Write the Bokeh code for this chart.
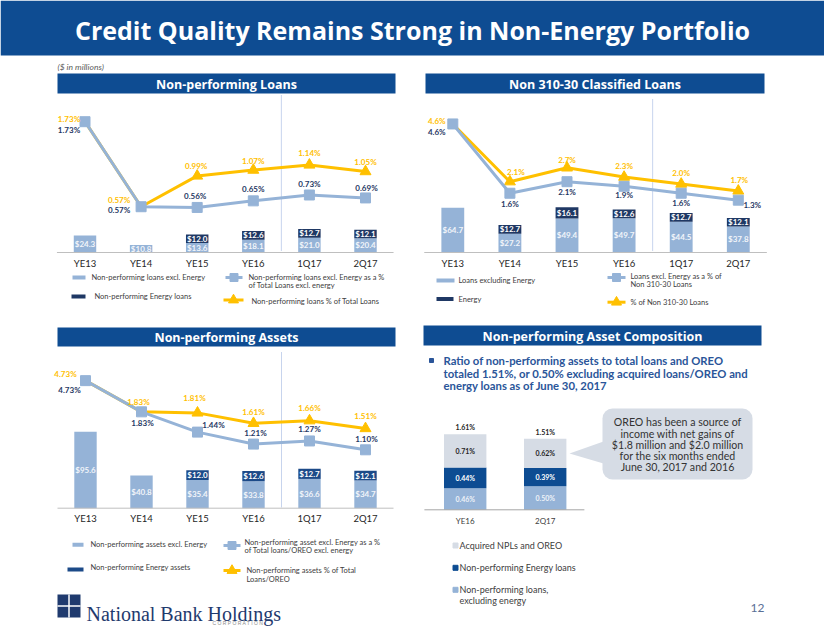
import numpy as np
from bokeh.plotting import figure
from bokeh.models import Range1d, ColumnDataSource, BoxAnnotation
from bokeh.core.properties import value
from bokeh.embed import file_html
from bokeh.resources import INLINE

# ---------------- data ----------------
periods = ["YE13", "YE14", "YE15", "YE16", "1Q17", "2Q17"]

npl_excl_energy = [24.3, 10.8, 13.6, 18.1, 21.0, 20.4]
npl_energy = [0.0, 0.0, 12.0, 12.6, 12.7, 12.1]
npl_excl_pct = [1.73, 0.57, 0.56, 0.65, 0.73, 0.69]
npl_total_pct = [1.73, 0.57, 0.99, 1.07, 1.14, 1.05]

cls_excl_energy = [64.7, 27.2, 49.4, 49.7, 44.5, 37.8]
cls_energy = [0.0, 12.7, 16.1, 12.6, 12.7, 12.1]
cls_excl_pct = [4.6, 1.6, 2.1, 1.9, 1.6, 1.3]
cls_total_pct = [4.6, 2.1, 2.7, 2.3, 2.0, 1.7]

npa_excl_energy = [95.6, 40.8, 35.4, 33.8, 36.6, 34.7]
npa_energy = [0.0, 0.0, 12.0, 12.6, 12.7, 12.1]
npa_excl_pct = [4.73, 1.83, 1.44, 1.21, 1.27, 1.10]
npa_total_pct = [4.73, 1.83, 1.81, 1.61, 1.66, 1.51]

comp_periods = ["YE16", "2Q17"]
comp_npl_excl = [0.46, 0.50]
comp_energy = [0.44, 0.39]
comp_acquired = [0.71, 0.62]

# ---------------- styles ----------------
FONT = value("Lato")
HFONT = value("Open Sans")
BLUE_BAR = "#0E4C92"
LIGHT = "#95B3D7"
NAVY = "#1F3864"
NAVY2 = "#1C4A88"
YELLOW = "#FFC000"
GRAY_TXT = "#404040"
ACQ = "#D6DCE5"
W, H = 824, 637

p = figure(width=W, height=H, x_range=Range1d(0, W), y_range=Range1d(H, 0),
           output_backend="svg", toolbar_location=None, min_border=0,
           x_axis_location=None, y_axis_location=None)
p.xgrid.visible = False
p.ygrid.visible = False
p.outline_line_color = None
p.background_fill_color = "white"
p.border_fill_color = "white"


def txt(x, y, s, size, color, style="normal", align="left", baseline="middle", font=FONT, **kw):
    p.text(x=x, y=y, text=s, text_font=font, text_font_size=value(size),
           text_color=color, text_font_style=style, text_align=align,
           text_baseline=baseline, **kw)


# ---------------- title / headers ----------------
p.quad(left=0, right=W, top=0, bottom=55, fill_color=BLUE_BAR, line_color=None)
txt([412], [29], ["Credit Quality Remains Strong in Non-Energy Portfolio"], "25px",
    "white", "bold", "center", font=HFONT)
txt([57], [66], ["($ in millions)"], "8.5px", "#595959", "italic")

headers = [
    (57, 395, 73, 93, "Non-performing Loans"),
    (425, 764, 73, 93, "Non 310-30 Classified Loans"),
    (57, 395, 327, 346, "Non-performing Assets"),
    (423, 761, 325, 345, "Non-performing Asset Composition"),
]
for l, r, t, b, s in headers:
    p.quad(left=l, right=r, top=t, bottom=b, fill_color=BLUE_BAR, line_color=None)
    txt([(l + r) / 2], [(t + b) / 2 + 0.5], [s], "12.5px", "white", "bold", "center",
        font=HFONT)


# ---------------- combo charts ----------------
def combo(key, x0, dx, bar_base, bar_k, pct_base, pct_k, excl, energy, excl_pct,
          total_pct, energy_color, decimals, yel_off, nav_off, vline_top, pct_cap=None):
    xr, br, pr = key + "x", key + "b", key + "p"
    p.extra_x_ranges[xr] = Range1d((0 - x0) / dx, (W - x0) / dx)
    p.extra_y_ranges[br] = Range1d((bar_base - H) / bar_k, bar_base / bar_k)
    p.extra_y_ranges[pr] = Range1d((pct_base - H) / pct_k, pct_base / pct_k)
    idx = np.arange(len(periods), dtype=float)
    excl = np.array(excl)
    energy = np.array(energy)
    has = energy > 0
    bw = 0.4
    p.vbar(x=idx, width=bw, bottom=0, top=excl, fill_color=LIGHT, line_color=None,
           x_range_name=xr, y_range_name=br)
    p.vbar(x=idx[has], width=bw, bottom=excl[has], top=(excl + energy)[has],
           fill_color=energy_color, line_color=None, x_range_name=xr, y_range_name=br)
    txt(idx, excl / 2, [f"${v:.1f}" for v in excl], "8px", "#F2F5FA", "bold", "center",
        x_range_name=xr, y_range_name=br)
    txt(idx[has], (excl + energy / 2)[has], [f"${v:.1f}" for v in energy[has]], "8px",
        "white", "bold", "center", x_range_name=xr, y_range_name=br)
    # baseline axis line
    p.segment(x0=[-0.5], x1=[len(periods) - 0.5], y0=[0], y1=[0], line_color="#BFBFBF",
              line_width=1, x_range_name=xr, y_range_name=br)
    # category labels
    txt(idx, np.zeros(len(idx)), periods, "9.5px", "#262626", "normal", "center",
        baseline="top", y_offset=5, x_range_name=xr, y_range_name=br)
    # separator between year-ends and quarters
    p.segment(x0=[3.5], x1=[3.5], y0=[vline_top], y1=[bar_base - 1], line_color="#8EA9DB",
              line_width=1, line_dash="1 1", x_range_name=xr)
    # percent lines
    ep = np.array(excl_pct)
    tp = np.array(total_pct)
    ep_d = np.minimum(ep, pct_cap) if pct_cap else ep
    tp_d = np.minimum(tp, pct_cap) if pct_cap else tp
    m = tp != ep
    p.line(idx, tp_d, line_color=YELLOW, line_width=3, x_range_name=xr, y_range_name=pr)
    p.scatter(idx[m], tp_d[m], marker="triangle", size=11, fill_color=YELLOW,
              line_color=YELLOW, x_range_name=xr, y_range_name=pr)
    p.line(idx, ep_d, line_color=LIGHT, line_width=3, x_range_name=xr, y_range_name=pr)
    p.scatter(idx, ep_d, marker="square", size=10, fill_color=LIGHT, line_color=LIGHT,
              x_range_name=xr, y_range_name=pr)
    src_y = ColumnDataSource(dict(x=idx, y=tp_d, t=[f"{v:.{decimals}f}%" for v in tp],
                                  dx=[o[0] for o in yel_off], dy=[o[1] for o in yel_off]))
    src_n = ColumnDataSource(dict(x=idx, y=ep_d, t=[f"{v:.{decimals}f}%" for v in ep],
                                  dx=[o[0] for o in nav_off], dy=[o[1] for o in nav_off]))
    for src, col in ((src_y, YELLOW), (src_n, NAVY)):
        p.text(x="x", y="y", text="t", x_offset="dx", y_offset="dy", source=src,
               text_font=FONT, text_font_size=value("8px"), text_font_style="bold",
               text_color=col, text_align="center", text_baseline="middle",
               x_range_name=xr, y_range_name=pr)


combo("tl", 84.5, 56.1, 252, 0.70, 248, 73.3, npl_excl_energy, npl_energy, npl_excl_pct,
      npl_total_pct, NAVY, 2,
      [(-16, -3), (-22, -7), (-1, -10), (0, -9), (0, -12), (0, -10)],
      [(-16, 8), (-22, 3), (-2, -11), (0, -12), (0, -11), (1, -10)], 95)

combo("tr", 452.3, 57.1, 252, 0.69, 229.7, 23.1, cls_excl_energy, cls_energy, cls_excl_pct,
      cls_total_pct, NAVY, 1,
      [(-16, -3), (6, -10), (0, -8), (0, -11), (0, -11), (1, -11)],
      [(-16, 8), (0, 11), (0, 10), (0, 9), (0, 10), (14, 5)], 99)

combo("bl", 85, 56, 507.7, 0.80, 506.5, 52, npa_excl_energy, npa_energy, npa_excl_pct,
      npa_total_pct, NAVY2, 2,
      [(-20, -7), (-3, -10), (-3, -15), (0, -11), (0, -13), (0, -12)],
      [(-16, 9), (1, 11), (16, -7), (2, -11), (0, -12), (1, -11)], 352, pct_cap=2.43)


# ---------------- legends ----------------
def legend(items):
    for kind, color, xa, xb, y, lines, tx, ty in items:
        if kind == "bar":
            p.segment(x0=[xa], x1=[xb], y0=[y], y1=[y], line_color=color, line_width=4)
        else:
            p.segment(x0=[xa], x1=[xb], y0=[y], y1=[y], line_color=color, line_width=3)
            p.scatter(x=[(xa + xb) / 2], y=[y], marker="square" if kind == "sq" else "triangle",
                      size=8 if kind == "sq" else 10, fill_color=color, line_color=color)
        for i, s in enumerate(lines):
            txt([tx], [ty + i * 8.5], [s], "7.5px", GRAY_TXT)


legend([
    ("bar", LIGHT, 72, 85, 277, ["Non-performing loans excl. Energy"], 91, 277),
    ("bar", NAVY, 71, 85, 296, ["Non-performing Energy loans"], 94, 295.5),
    ("sq", LIGHT, 225, 242, 277, ["Non-performing loans excl. Energy as a %",
                                  "of Total Loans excl. energy"], 248, 276.5),
    ("tri", YELLOW, 223, 243, 299.5, ["Non-performing loans % of Total Loans"], 251, 300.5),
])
legend([
    ("bar", LIGHT, 436, 454, 280, ["Loans excluding Energy"], 458, 280),
    ("bar", NAVY, 436, 453, 298.5, ["Energy"], 458, 298.5),
    ("sq", LIGHT, 607, 625, 277, ["Loans excl. Energy as a % of", "Non 310-30 Loans"], 630, 275.7),
    ("tri", YELLOW, 607, 625, 301.7, ["% of Non 310-30 Loans"], 630, 301.7),
])
legend([
    ("bar", LIGHT, 72, 83, 544.3, ["Non-performing assets excl. Energy"], 90, 544),
    ("bar", NAVY2, 67, 83, 569, ["Non-performing Energy assets"], 90, 566.7),
    ("sq", LIGHT, 223, 240, 545, ["Non-performing asset excl. Energy as a %",
                                  "of Total loans/OREO excl. energy"], 244, 541.7),
    ("tri", YELLOW, 223, 240, 570, ["Non-performing assets % of Total", "Loans/OREO"], 246, 570),
])

# ---------------- composition chart ----------------
p.extra_x_ranges["cx"] = Range1d((0 - 464.7) / 80, (W - 464.7) / 80)
p.extra_y_ranges["cy"] = Range1d((509.3 - H) / 47, 509.3 / 47)
ci = np.arange(len(comp_periods), dtype=float)
c1 = np.array(comp_npl_excl)
c2 = np.array(comp_energy)
c3 = np.array(comp_acquired)
cw = 0.53
p.vbar(x=ci, width=cw, bottom=0, top=c1, fill_color=LIGHT, line_color=None,
       x_range_name="cx", y_range_name="cy")
p.vbar(x=ci, width=cw, bottom=c1, top=c1 + c2, fill_color="#0D4C92", line_color=None,
       x_range_name="cx", y_range_name="cy")
p.vbar(x=ci, width=cw, bottom=c1 + c2, top=c1 + c2 + c3, fill_color=ACQ, line_color=None,
       x_range_name="cx", y_range_name="cy")
for ys, vals, col in ((c1 / 2, c1, "#EEF2F8"), (c1 + c2 / 2, c2, "white"),
                      (c1 + c2 + c3 / 2, c3, "#262626")):
    txt(ci, ys, [f"{v:.2f}%" for v in vals], "7px", col, "bold", "center",
        x_range_name="cx", y_range_name="cy")
tot = c1 + c2 + c3
txt(ci, tot, [f"{v:.2f}%" for v in tot], "7px", "#262626", "bold", "center",
    baseline="bottom", y_offset=-3, x_range_name="cx", y_range_name="cy")
p.segment(x0=[-0.51], x1=[1.49], y0=[0], y1=[0], line_color="#A6A6A6", line_width=1,
          x_range_name="cx", y_range_name="cy")
txt(ci, np.zeros(2), comp_periods, "8px", GRAY_TXT, "normal", "center", baseline="top",
    y_offset=6, x_range_name="cx", y_range_name="cy")

# composition legend
for y, col, lines in ((545, ACQ, ["Acquired NPLs and OREO"]),
                      (567.3, "#0D4C92", ["Non-performing Energy loans"]),
                      (589.3, LIGHT, ["Non-performing loans,", "excluding energy"])):
    p.scatter(x=[455], y=[y], marker="square", size=5, fill_color=col, line_color=col)
    for i, s in enumerate(lines):
        txt([459], [y + i * 11], [s], "9px", GRAY_TXT)

# bullet text
p.scatter(x=[431], y=[360], marker="square", size=4, fill_color="#2A5599", line_color="#2A5599")
for i, s in enumerate(["Ratio of non-performing assets to total loans and OREO",
                       "totaled 1.51%, or 0.50% excluding acquired loans/OREO and",
                       "energy loans as of June 30, 2017"]):
    txt([443], [360 + i * 12.5], [s], "11.3px", "#2A5599", "bold")

# callout
p.add_layout(BoxAnnotation(left=602, right=752, top=408, bottom=479, fill_color=ACQ,
                           fill_alpha=1, line_color=None, border_radius=10,
                           level="underlay"))
p.patch(x=[603, 569, 603], y=[441, 453, 463], fill_color=ACQ, line_color=None)
for i, s in enumerate(["OREO has been a source of", "income with net gains of",
                       "$1.8 million and $2.0 million", "for the six months ended",
                       "June 30, 2017 and 2016"]):
    txt([677], [421.7 + i * 11.3], [s], "10.6px", "#333333", "normal", "center")

# page number
txt([757], [607], ["12"], "12px", "#5A6F96", "normal", "center")

# logo
p.quad(left=57, right=80, top=594, bottom=617, fill_color="#1F3A6E", line_color=None)
p.segment(x0=[68.5, 57], x1=[68.5, 80], y0=[594, 605.5], y1=[617, 605.5],
          line_color="white", line_width=1.5)
txt([86], [613], ["National Bank Holdings"], "20px", "#1F3A6E", "normal", "left",
    baseline="alphabetic", font=value("Liberation Serif"))
txt([212], [622], ["C O R P O R A T I O N"], "5px", "#8C8C8C", "normal", "left",
    font=value("Liberation Sans"))

open("out.html", "w").write(file_html(p, INLINE))
